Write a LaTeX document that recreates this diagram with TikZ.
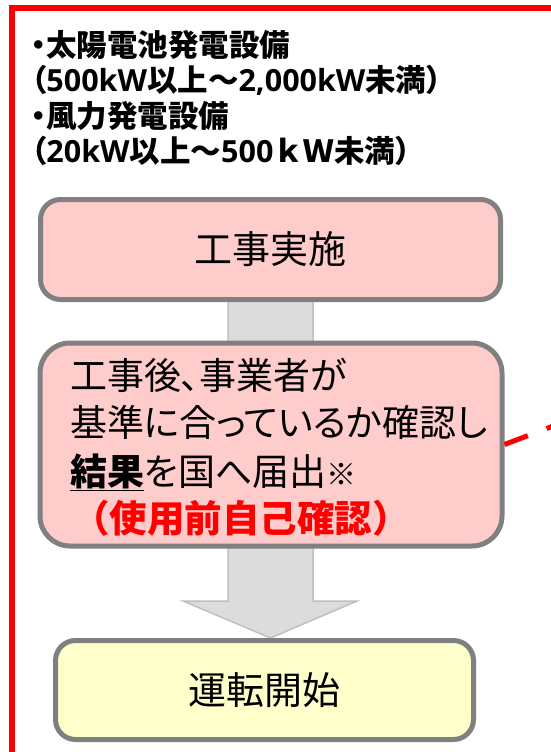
\documentclass[tikz,border=0pt]{standalone}
\usepackage{fontspec}
\usetikzlibrary{calc,backgrounds}
\newfontfamily\jp[RawFeature=+palt]{Noto Sans CJK JP}
\newfontfamily\jpfull{Noto Sans CJK JP}
\newfontfamily\latb{Open Sans}
\newcommand{\lt}[1]{{\latb\bfseries #1}}
\definecolor{framered}{HTML}{FF0000}
\definecolor{boxgray}{HTML}{808080}
\definecolor{pinkfill}{HTML}{FFCCCC}
\definecolor{yellowfill}{HTML}{FFFFCC}
\definecolor{arrowfill}{HTML}{DCDCDC}
\definecolor{arrowline}{HTML}{BFBFBF}
\begin{document}
\begin{tikzpicture}[x=1pt,y=-1pt,
  box/.style={draw=boxgray, line width=5pt, rounded corners=20pt, inner sep=0pt,
    font=\jp\fontsize{38}{48}\selectfont},
  toptext/.style={anchor=base west, inner sep=0pt, font=\jp\bfseries\fontsize{30.5}{35}\selectfont},
  boxtext/.style={anchor=base west, inner sep=0pt, font=\jp\fontsize{37}{48}\selectfont},
  blockarrow/.style={fill=arrowfill, draw=arrowline, line width=1.5pt, line join=miter},
  redframe/.style={draw=framered, line width=6pt},
  reddash/.style={draw=framered, line width=5pt, dash pattern=on 25pt off 20pt}
]
\useasboundingbox (0,0) rectangle (551,752);
\begin{scope}
\clip (0,0) rectangle (551,752);
\draw[redframe] (12,8) rectangle (620,800);

% top text
\node[toptext] (t1) at (31,57) {・太陽電池発電設備};
\node[toptext] (t2) at (31,91) {（\lt{500kW}以上～\lt{2,000kW}未満）};
\node[toptext] (t3) at (31,127) {・風力発電設備};
\node[toptext] (t4) at (31,162) {（\lt{20kW}以上～\lt{500}{\jpfull ｋＷ}未満）};

% boxes
\node[box, fill=pinkfill, minimum width=460pt, minimum height=100pt] (b1) at (270.5,249.5) {工事実施};
\node[box, fill=pinkfill, rounded corners=30pt, minimum width=462pt, minimum height=203pt] (b2) at (271,444.5) {};
\node[box, fill=yellowfill, minimum width=418pt, minimum height=99pt] (b3) at (264.5,690) {運転開始};

% text in box 2
\node[boxtext] (l1) at (70,389) {工事後、事業者が};
\node[boxtext] (l2) at (70,436) {基準に合っているか確認し};
\node[boxtext] (l3) at (70,485) {\textbf{\underline{結果}}を国へ届出{\fontsize{30}{30}\selectfont ※}};
\node[boxtext, text=framered, font=\jpfull\bfseries\fontsize{37.5}{48}\selectfont] (l4) at (72,532) {（使用前自己確認）};

% block arrow behind the boxes
\coordinate (tip) at (b1.south |- b3.north);
\begin{pgfonlayer}{background}
\fill[white] (0,0) rectangle (551,752);
\draw[blockarrow] ($(b1.south)+(-42.5,-2)$) -- ($(b1.south)+(42.5,-2)$)
  -- ($(tip)+(42.5,-37)$) -- ($(tip)+(86.5,-37)$) -- (tip)
  -- ($(tip)+(-87.5,-37)$) -- ($(tip)+(-42.5,-37)$) -- cycle;
\end{pgfonlayer}

% red dashed leader
\coordinate (dashend) at (640,393);
\draw[reddash] (b2.east) -- (dashend);
\end{scope}
\end{tikzpicture}
\end{document}
